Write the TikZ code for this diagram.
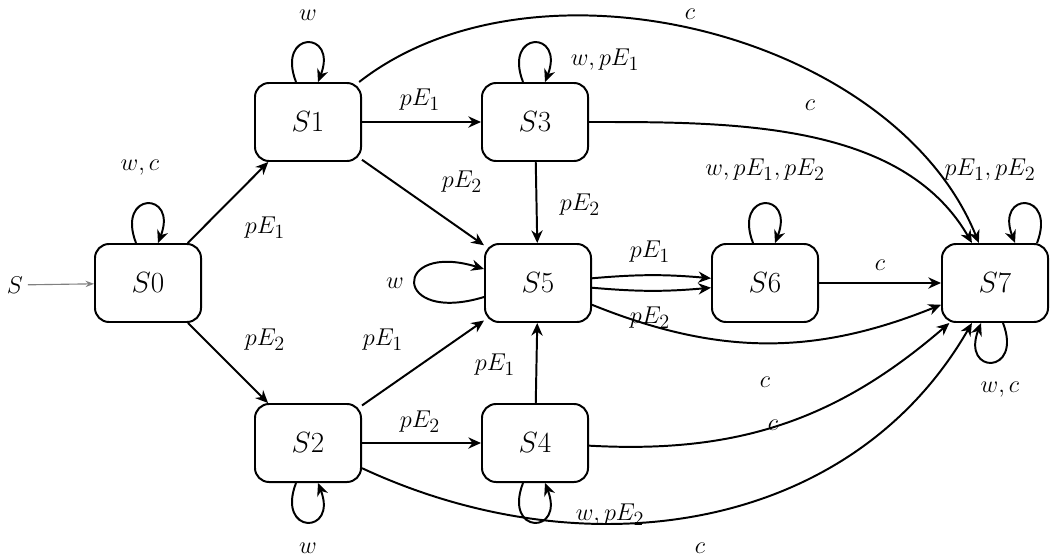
\documentclass[tikz,border=0pt]{standalone}
\usetikzlibrary{arrows.meta}
\begin{document}
\begin{tikzpicture}[x=0.025cm,y=-0.025cm,
  st/.style={draw,line width=1.4pt,rounded corners=10pt,minimum width=2.65cm,minimum height=1.95cm,font=\fontsize{20}{23}\selectfont},
  e/.style={line width=1.4pt,-{Stealth[length=9pt,width=8pt]}},
  lb/.style={font=\fontsize{19}{22}\selectfont},
  lu/.style={to path={.. controls +(-0.5cm,1.3cm) and +(0.5cm,1.3cm) .. (\tikztotarget)}},
  ld/.style={to path={.. controls +(-0.5cm,-1.3cm) and +(0.5cm,-1.3cm) .. (\tikztotarget)}},
  ll/.style={to path={.. controls +(-2.3cm,-0.7cm) and +(-2.3cm,0.7cm) .. (\tikztotarget)}}]
\useasboundingbox (0,0) rectangle (1052,559);
\node[st] (s0) at (148,283) {$S0$};
\node[st] (s1) at (308,122) {$S1$};
\node[st] (s3) at (535,122) {$S3$};
\node[st] (s5) at (538,283) {$S5$};
\node[st] (s6) at (765,283) {$S6$};
\node[st] (s7) at (995,283) {$S7$};
\node[st] (s2) at (308,443) {$S2$};
\node[st] (s4) at (535,443) {$S4$};
\node[lb] (s) at (15,285) {$S$};
\draw[gray,line width=0.8pt,-{Stealth[length=6pt]}] (s) -- (s0);
\draw[e] (s0) -- (s1); \node[lb] at (265,228) {$pE_1$};
\draw[e] (s0) -- (s2); \node[lb] at (265,340) {$pE_2$};
\draw[e] (s1) -- (s3); \node[lb] at (420,100) {$pE_1$};
\draw[e] (s1) -- (s5); \node[lb] at (462,182) {$pE_2$};
\draw[e] (s3) -- (s5); \node[lb] at (580,205) {$pE_2$};
\draw[e] (s2) -- (s5); \node[lb] at (383,340) {$pE_1$};
\draw[e] (s4) -- (s5); \node[lb] at (495,365) {$pE_1$};
\draw[e] (s2) -- (s4); \node[lb] at (420,422) {$pE_2$};
\draw[e] (s5) to[bend left=5] (s6); \node[lb] at (650,252) {$pE_1$};
\draw[e] (s5) to[bend right=5] (s6); \node[lb] at (650,318) {$pE_2$};
\draw[e] (s6) -- (s7); \node[lb] at (880,265) {$c$};
\draw[e] (s5) to[bend right=22] (s7); \node[lb] at (765,382) {$c$};
\draw[e] (s4) to[bend right=22] (s7); \node[lb] at (773,425) {$c$};
\draw[e] (s2) to[out=-25,in=-120] (s7); \node[lb] at (700,548) {$c$};
\draw[e] (s1) to[out=38,in=112,looseness=0.9] (s7); \node[lb] at (690,14) {$c$};
\draw[e] (s3) to[out=0,in=120,looseness=0.9] (s7); \node[lb] at (810,105) {$c$};
% loops
\draw[e] ([xshift=-0.3cm]s0.north) to[lu] ([xshift=0.25cm]s0.north); \node[lb] at (140,168) {$w, c$};
\draw[e] ([xshift=-0.3cm]s1.north) to[lu] ([xshift=0.25cm]s1.north); \node[lb] at (308,15) {$w$};
\draw[e] ([xshift=-0.3cm]s3.north) to[lu] ([xshift=0.25cm]s3.north); \node[lb] at (605,60) {$w, pE_1$};
\draw[e] ([xshift=-0.3cm]s6.north) to[lu] ([xshift=0.25cm]s6.north); \node[lb] at (765,170) {$w, pE_1, pE_2$};
\draw[e] ([xshift=1.05cm]s7.north) .. controls +(0.5cm,1.3cm) and +(-0.5cm,1.3cm) .. ([xshift=0.5cm]s7.north);
\node[lb] at (990,170) {$pE_1, pE_2$};
\draw[e] ([xshift=0.2cm]s7.south) .. controls +(0.5cm,-1.3cm) and +(-0.5cm,-1.3cm) .. ([xshift=-0.35cm]s7.south); \node[lb] at (1000,390) {$w, c$};
\draw[e] ([xshift=-0.3cm]s2.south) to[ld] ([xshift=0.25cm]s2.south); \node[lb] at (308,548) {$w$};
\draw[e] ([xshift=-0.3cm]s4.south) to[ld] ([xshift=0.25cm]s4.south); \node[lb] at (610,515) {$w, pE_2$};
\draw[e] ([yshift=-0.35cm]s5.west) to[ll] ([yshift=0.35cm]s5.west); \node[lb] at (395,283) {$w$};
\end{tikzpicture}
\end{document}
